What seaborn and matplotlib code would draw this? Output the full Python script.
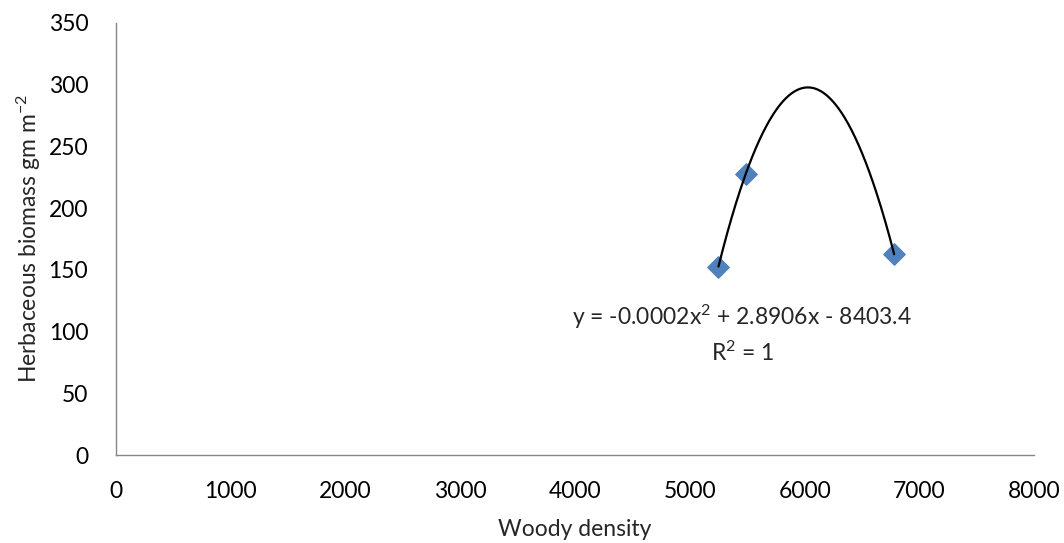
import numpy as np
import pandas as pd
import matplotlib
matplotlib.use("Agg")
import matplotlib.pyplot as plt
import seaborn as sns

# =====================================================
# Data
# =====================================================

woody_density = [5249, 5487, 6780]
herb_biomass = [152.6, 227.7, 162.6]

x_ticks = [0, 1000, 2000, 3000, 4000, 5000, 6000, 7000, 8000]
y_ticks = [0, 50, 100, 150, 200, 250, 300, 350]

df = pd.DataFrame({"x": woody_density, "y": herb_biomass})

# quadratic trendline through the points
coef = np.polyfit(df["x"], df["y"], 2)
xs = np.linspace(df["x"].min(), df["x"].max(), 200)
trend = pd.DataFrame({"x": xs, "y": np.polyval(coef, xs)})

# =====================================================
# Style
# =====================================================

sns.set_style("white")
plt.rcParams["font.family"] = ["Lato", "DejaVu Sans"]
plt.rcParams["mathtext.fontset"] = "custom"
plt.rcParams["mathtext.rm"] = "Lato"
plt.rcParams["mathtext.it"] = "Lato:italic"

FS = 16.5

fig = plt.figure(figsize=(10.64, 5.43), dpi=100)
ax = fig.add_axes([0.109, 0.162, 0.863, 0.796])

sns.lineplot(data=trend, x="x", y="y", color="black",
             linewidth=1.6, ax=ax, zorder=3)

sns.scatterplot(data=df, x="x", y="y", marker="D", s=120,
                color="#4F81BD", edgecolor="#4F81BD", ax=ax, zorder=2)

ax.text(5455, 112, "y = -0.0002x$^{2}$ + 2.8906x - 8403.4",
        ha="center", va="center", fontsize=FS)
ax.text(5455, 83, "R$^{2}$ = 1", ha="center", va="center", fontsize=FS)

ax.set_xlim(0, 8000)
ax.set_ylim(0, 350)
ax.set_xticks(x_ticks)
ax.set_yticks(y_ticks)
ax.tick_params(axis="both", length=0, labelsize=FS, colors="black")
ax.tick_params(axis="x", pad=19)
ax.tick_params(axis="y", pad=20)

ax.set_xlabel("Woody density", fontsize=FS, labelpad=12)
ax.set_ylabel("Herbaceous biomass gm m$^{-2}$", fontsize=FS, labelpad=4)

for side in ["top", "right"]:
    ax.spines[side].set_visible(False)
for side in ["left", "bottom"]:
    ax.spines[side].set_color("#868686")
    ax.spines[side].set_linewidth(1.0)

fig.savefig("out.png", dpi=100)
plt.close()
